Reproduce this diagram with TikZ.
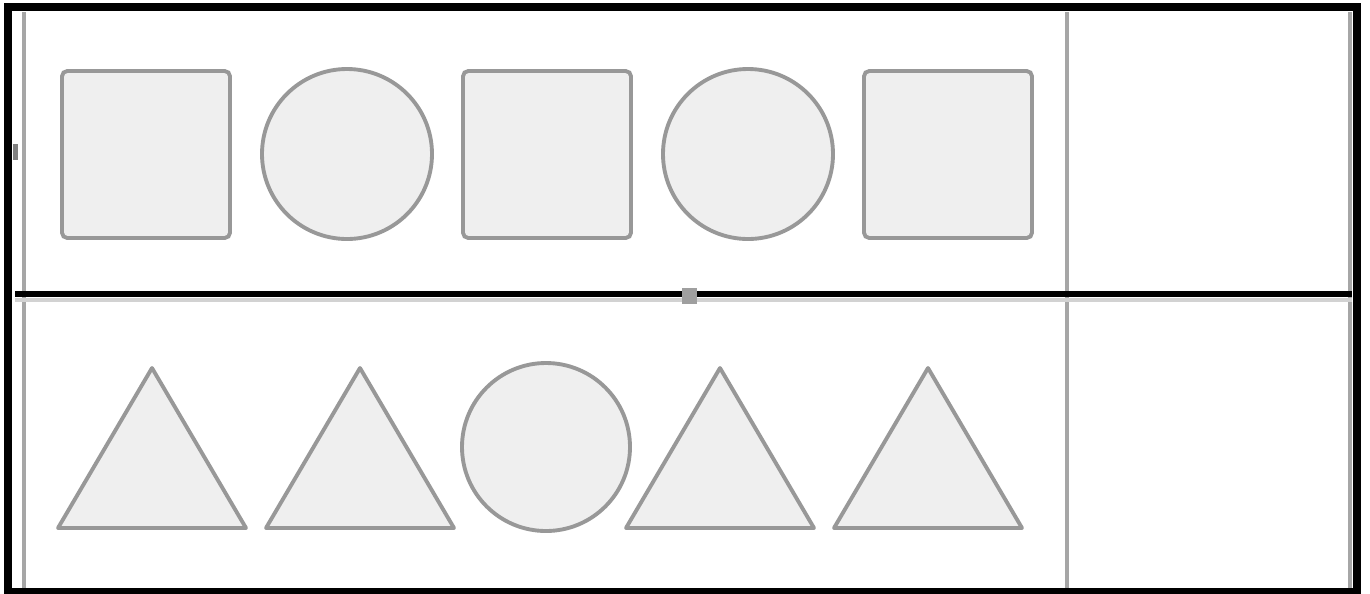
\documentclass[tikz,border=0pt]{standalone}
\usepackage{tikz}

\definecolor{pieceline}{RGB}{152,152,152}
\definecolor{piecefill}{RGB}{239,239,239}
\definecolor{ruleline}{RGB}{166,166,166}
\tikzset{
  piece/.style={draw=pieceline,fill=piecefill,line width=2.2pt},
  rulegray/.style={ruleline,line width=2.6pt},
}

\begin{document}
\begin{tikzpicture}[x=0.02cm,y=-0.02cm]
        \clip (0,0) rectangle (1370,593);
        \fill[white] (0,0) rectangle (1370,593);
        % grey rules of the table
        \foreach \x in {24,1067,1350} {
            \draw[rulegray] (\x,12) -- (\x,589);
          }
        \draw[gray!35,line width=2.2pt] (15,300) -- (1352,300);
        % top row
        \foreach \x in {146,547,948} {
            \draw[piece,rounded corners=3pt] (\x-84,71) rectangle (\x+84,238);
          }
        \foreach \x in {347,748} {
            \draw[piece] (\x,154) circle (85);
          }
        % bottom row
        \foreach \x in {152,360,720,928} {
            \draw[piece,line join=round] (\x,368) -- (\x+94,528) -- (\x-94,528) -- cycle;
          }
        \draw[piece] (546,447) circle (84);
        % black frame and middle line
        \draw[black,line width=3.4pt] (15,294) -- (1352,294);
        \fill[gray!75] (682,288) rectangle (697,304);
        \fill[gray] (13,144) rectangle (18,160);
        \draw[black,line width=4.6pt] (8,7) rectangle (1357,592);
      \end{tikzpicture}
\end{document}
